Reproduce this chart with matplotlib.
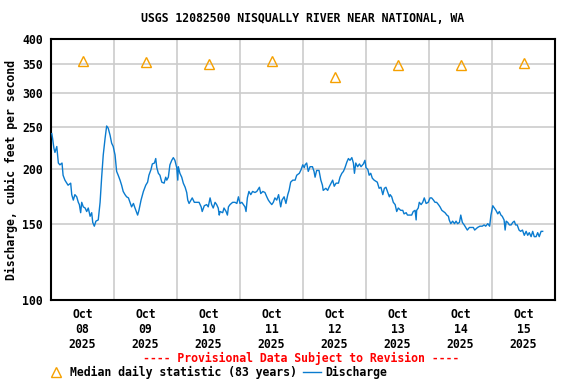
import matplotlib
matplotlib.use("Agg")
import matplotlib.pyplot as plt
import matplotlib.dates as mdates
from matplotlib.lines import Line2D
import pandas as pd

# discharge trace, hours after 2025-10-08 00:00 and cfs
hours = [
    0.3, 0.6, 1.1, 1.5, 2.2, 2.8, 3.4, 4.2, 4.6, 5.3, 6.0, 6.5, 7.5, 7.9, 8.5, 9.1,
    9.8, 10.4, 10.8, 11.3, 11.7, 12.3, 13.0, 13.6, 14.2, 14.9, 15.5, 15.9, 16.5, 17.1,
    18.0, 18.7, 19.3, 19.9, 20.6, 21.2, 21.8, 22.5, 23.1, 23.7, 24.4, 25.0, 25.6, 26.3,
    26.9, 27.5, 28.2, 28.8, 29.5, 30.1, 30.7, 31.4,
    32.0, 33.0, 33.5, 34.3, 35.2, 36.1, 36.8, 37.3, 38.1, 38.6, 39.4, 39.9, 40.3, 40.9,
    41.5, 42.2, 43.1, 43.7, 44.1, 44.7, 45.3, 46.0, 46.6, 47.2, 47.9, 48.3, 48.5, 49.1,
    49.8, 50.4, 51.1, 51.7, 52.1, 52.6, 53.3, 53.8, 54.6, 55.5, 56.4, 57.2, 57.6, 58.4,
    59.3, 59.9, 60.6, 61.2, 61.8, 62.5, 63.1, 63.7, 64.1,
    64.4, 65.4, 65.9, 66.7, 67.2, 67.6, 68.2, 69.2, 70.1, 70.8, 71.4, 72.0, 72.7, 73.3,
    73.9, 74.3, 74.8, 75.4, 76.1, 76.8, 77.7, 78.4, 79.4, 79.9, 80.7, 81.5, 82.2, 82.8,
    83.4, 84.1, 84.7, 85.3, 86.0, 86.7, 87.5, 88.0, 88.8, 89.5, 90.2, 90.7, 91.3, 92.1,
    93.0, 93.6, 94.6, 95.3, 95.9, 96.5,
    96.8, 97.4, 98.0, 98.7, 99.6, 100.2, 100.6, 101.2, 102.1, 102.8, 103.4, 103.7,
    104.7, 105.4, 105.9, 106.7, 107.3, 107.9, 108.6, 109.5, 110.1, 110.8, 111.4, 112.0,
    112.7, 113.3, 113.9, 114.6, 115.2, 115.6, 116.1, 116.8, 117.5, 118.1, 119.0, 119.6,
    120.0, 120.7, 121.2, 121.8, 122.4, 123.1, 123.7, 124.3, 125.0, 125.7, 126.4, 127.0,
    127.6, 128.3, 128.9,
    129.2, 129.8, 130.4, 131.1, 131.7, 132.3, 133.2, 134.0, 134.5, 135.3, 135.8, 136.5,
    137.4, 138.0, 138.7, 139.1, 139.3, 139.9, 140.3, 141.0, 141.6, 142.2, 142.9, 143.7,
    144.4, 145.0, 145.7, 146.3, 146.9, 147.6, 148.2, 148.9, 149.5, 150.1, 150.8, 151.4,
    151.7, 152.3, 153.0, 153.7, 154.3, 154.9, 155.6, 156.1, 156.7, 157.4, 158.0, 158.6,
    159.4, 160.3, 160.9, 161.4,
    162.5, 163.4, 164.3, 165.0, 165.6, 166.4, 167.1, 167.6, 168.3, 168.9, 169.5, 170.2,
    170.8, 171.4, 171.9, 172.6, 173.0, 173.4, 174.0, 174.6, 175.3, 175.9, 176.5, 177.0,
    177.6, 178.3, 178.9, 179.6, 180.3, 181.0, 181.6, 182.2, 182.9, 183.5, 184.1, 184.8,
    185.4, 186.0, 186.7, 187.3,
]
discharge = [
    242, 236, 224, 219, 226, 207, 205, 207, 194, 189, 186, 184, 186, 175, 170, 175,
    173, 168, 166, 159, 168, 164, 163, 160, 163, 156, 159, 151, 148, 152,
    153, 168, 192, 216, 236, 252, 249, 240, 230, 226, 216, 198, 194, 189,
    184, 178, 175, 173, 172, 168, 164, 167,
    163, 157, 161, 170, 178, 184, 187, 194, 200, 206, 207, 212, 202, 196,
    194, 187, 186, 192, 189, 192, 205, 210, 213, 210, 202, 189, 203, 196,
    192, 186, 182, 177, 170, 167, 170, 172, 168, 168, 168, 164, 160, 165,
    166, 164, 172, 166, 163, 168, 166, 163, 157,
    160, 159, 163, 160, 157, 164, 166, 168, 168, 167, 173, 167, 168, 166,
    164, 160, 172, 178, 175, 178, 177, 178, 182, 176, 178, 177, 173, 170,
    168, 166, 168, 172, 170, 175, 164, 170, 173, 167, 175, 179, 187, 189,
    189, 194, 196, 200, 205, 202,
    205, 207, 198, 203, 203, 198, 192, 199, 199, 189, 184, 179,
    181, 179, 182, 186, 189, 183, 186, 186, 192, 196, 198, 202,
    208, 212, 210, 213, 207, 196, 207, 203, 206, 203, 206, 210,
    202, 200, 194, 196, 191, 189, 188, 187, 181, 182, 175, 181,
    182, 177, 173,
    175, 173, 168, 166, 160, 163, 161, 161, 158, 159, 157, 157,
    157, 160, 161, 153, 161, 163, 168, 166, 168, 172, 167, 168,
    172, 172, 170, 168, 168, 166, 164, 161, 160, 159, 157, 156,
    153, 150, 152, 150, 152, 150, 151, 157, 151, 149, 147, 145,
    147, 147, 147, 145,
    147, 148, 148, 149, 148, 150, 148, 157, 165, 163, 161, 158,
    160, 157, 156, 153, 145, 152, 151, 149, 149, 151, 152, 149,
    149, 145, 144, 145, 141, 144, 141, 143, 140, 144, 140, 140,
    143, 140, 144, 144,
]

# median daily statistic (83 years), one per day
median_days = ["2025-10-08", "2025-10-09", "2025-10-10", "2025-10-11",
               "2025-10-12", "2025-10-13", "2025-10-14", "2025-10-15"]
median_vals = [355, 354, 350, 356, 327, 348, 348, 352]

start = pd.Timestamp("2025-10-08")
t = [start + pd.Timedelta(hours=h) for h in hours]
t_med = [pd.Timestamp(d) + pd.Timedelta(hours=12) for d in median_days]

font = {"family": "DejaVu Sans Mono", "weight": "bold", "size": 8.3}
plt.rcParams["font.family"] = "DejaVu Sans Mono"
plt.rcParams["font.weight"] = "bold"

fig = plt.figure(figsize=(5.76, 3.84), dpi=100)
ax = fig.add_axes([51 / 576, 1 - 300 / 384, 504 / 576, 261 / 384])

line_color = "#0a7bcf"
tri_color = "#f5a000"

ax.plot(t, discharge, color=line_color, lw=1.0, zorder=3)
ax.plot(t_med, median_vals, linestyle="none", marker="^", markersize=7.5,
        markerfacecolor="none", markeredgecolor=tri_color, markeredgewidth=1.0, zorder=4)

ax.set_yscale("log")
ax.set_ylim(100, 400)
yt = [100, 150, 200, 250, 300, 350, 400]
ax.set_yticks(yt)
ax.set_yticklabels([str(v) for v in yt], fontdict=font)
ax.yaxis.set_minor_locator(plt.NullLocator())
ax.tick_params(axis="y", length=0, pad=6)

ax.set_xlim(start, start + pd.Timedelta(days=8))
ax.xaxis.set_major_locator(mdates.DayLocator())
ax.xaxis.set_major_formatter(plt.NullFormatter())
ax.xaxis.set_minor_locator(mdates.HourLocator(byhour=[12]))
ax.xaxis.set_minor_formatter(mdates.DateFormatter("%b\n%d\n%Y"))
ax.tick_params(axis="x", which="both", length=0, pad=6)
for lbl in ax.xaxis.get_minorticklabels():
    lbl.set_fontproperties(font)
    lbl.set_horizontalalignment("center")

ax.grid(True, which="major", color="#cccccc", lw=1.2)
ax.set_axisbelow(True)
for s in ax.spines.values():
    s.set_linewidth(1.5)
    s.set_color("black")

ax.set_ylabel("Discharge, cubic feet per second", fontdict=font, labelpad=3)
ax.set_title("USGS 12082500 NISQUALLY RIVER NEAR NATIONAL, WA", fontdict=font, pad=12)

fig.text(301 / 576, 1 - 358 / 384, "---- Provisional Data Subject to Revision ----",
         color="red", ha="center", va="center", **font)

handles = [
    Line2D([], [], linestyle="none", marker="^", markersize=7.5, markerfacecolor="none",
           markeredgecolor=tri_color, markeredgewidth=1.0),
    Line2D([], [], color=line_color, lw=1.0),
]
fig.legend(handles, ["Median daily statistic (83 years)", "Discharge"],
           loc="center left", bbox_to_anchor=(47 / 576, 1 - 372 / 384), ncol=2,
           frameon=False, prop=font, handlelength=1.6, handletextpad=0.4,
           columnspacing=0.5, borderpad=0, borderaxespad=0)

fig.savefig("out.png", dpi=100)
